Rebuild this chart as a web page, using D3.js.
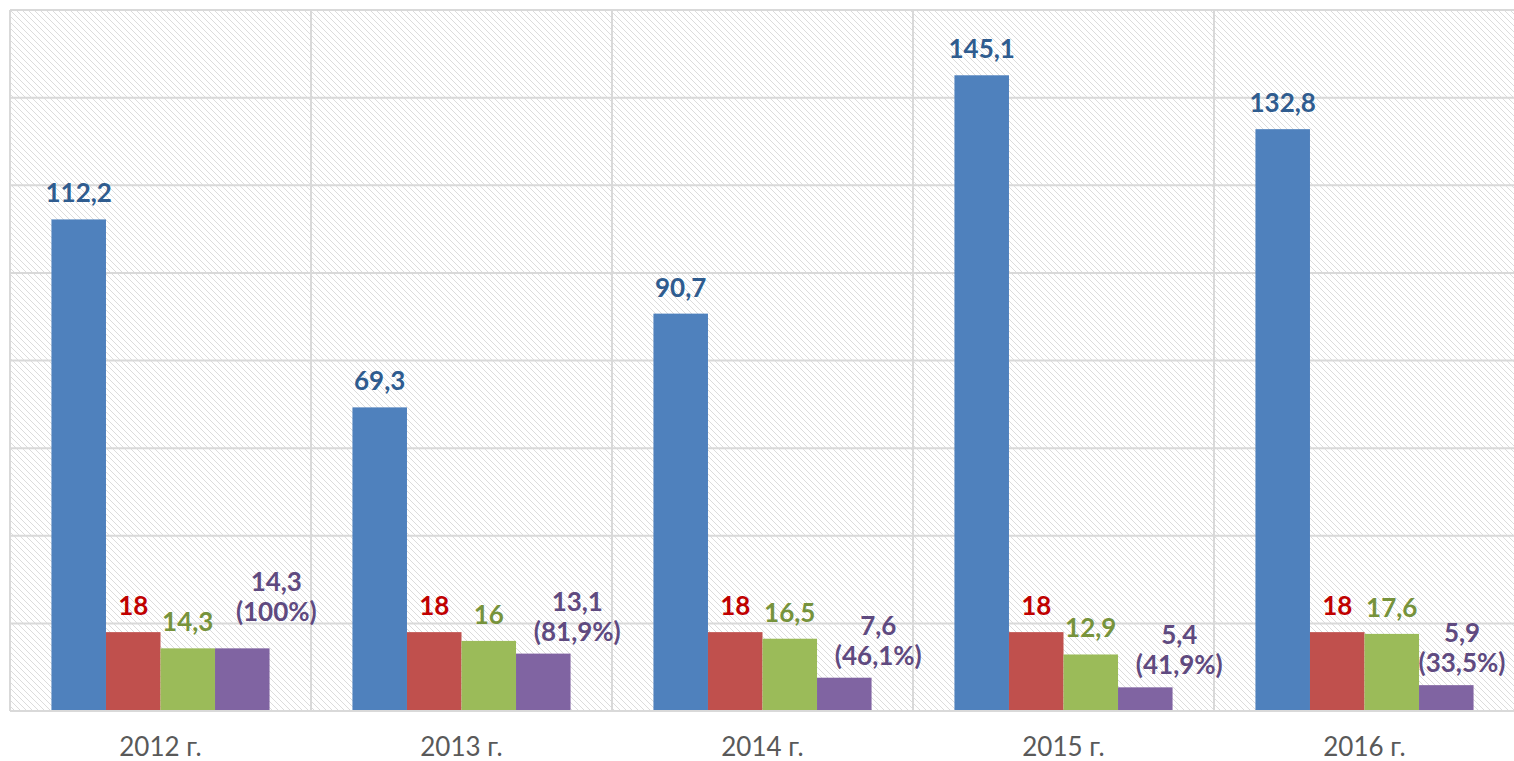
<!DOCTYPE html>
<html>
<head>
<meta charset="utf-8">
<script src="https://cdn.jsdelivr.net/npm/d3@7"></script>
<style>
  body { margin: 0; background: #fff; }
  svg { display: block; }
</style>
</head>
<body>
<div id="chart"></div>
<script>
'use strict'

// data
const years = ['2012 г.', '2013 г.', '2014 г.', '2015 г.', '2016 г.'];
const seriesKeys = ['a', 'b', 'c', 'd'];
const seriesA = [112.2, 69.3, 90.7, 145.1, 132.8];
const seriesB = [18, 18, 18, 18, 18];
const seriesC = [14.3, 16, 16.5, 12.9, 17.6];
const seriesD = [14.3, 13.1, 7.6, 5.4, 5.9];
const shareD = ['100%', '81,9%', '46,1%', '41,9%', '33,5%'];
const yTicks = [0, 20, 40, 60, 80, 100, 120, 140, 160];

const barColors = { a: '#4f81bd', b: '#c0504d', c: '#9bbb59', d: '#8064a2' };
const labelColors = { a: '#2f5c8f', b: '#c00000', c: '#77933c', d: '#5f4a80' };

const width = 1514, height = 761;
const plot = { left: 10, top: 10, right: 1515, bottom: 711 };

const rows = years.map((year, i) => ({
    year,
    values: { a: seriesA[i], b: seriesB[i], c: seriesC[i], d: seriesD[i] },
    share: shareD[i]
}));

const fmt = v => String(v).replace('.', ',');

const svg = d3.select('#chart').append('svg')
    .attr('width', width)
    .attr('height', height);

// hatched background
const defs = svg.append('defs');
const pat = defs.append('pattern')
    .attr('id', 'hatch')
    .attr('patternUnits', 'userSpaceOnUse')
    .attr('width', 6)
    .attr('height', 6);
pat.append('rect').attr('width', 6).attr('height', 6).attr('fill', '#fff');
pat.append('path')
    .attr('d', 'M-1,-1 L7,7 M-1,5 L1,7 M5,-1 L7,1')
    .attr('stroke', '#dcdcdc')
    .attr('stroke-width', 1);

const x0 = d3.scaleBand()
    .domain(years)
    .range([plot.left, plot.right]);

const x1 = d3.scaleBand()
    .domain(seriesKeys)
    .range([0, x0.bandwidth()])
    .paddingOuter(0.76);

const y = d3.scaleLinear()
    .domain([0, 160])
    .range([plot.bottom, plot.top]);

svg.append('rect')
    .attr('x', plot.left)
    .attr('y', plot.top)
    .attr('width', plot.right - plot.left)
    .attr('height', plot.bottom - plot.top)
    .attr('fill', 'url(#hatch)');

// grid
svg.append('g')
    .selectAll('line')
    .data(yTicks)
    .enter().append('line')
    .attr('x1', plot.left)
    .attr('x2', plot.right)
    .attr('y1', d => y(d))
    .attr('y2', d => y(d))
    .attr('stroke', '#d9d9d9')
    .attr('stroke-width', 2);

svg.append('g')
    .selectAll('line')
    .data(years.concat(['end']))
    .enter().append('line')
    .attr('x1', d => d === 'end' ? plot.right : x0(d))
    .attr('x2', d => d === 'end' ? plot.right : x0(d))
    .attr('y1', plot.top)
    .attr('y2', plot.bottom)
    .attr('stroke', '#d9d9d9')
    .attr('stroke-width', 2);

// bars
const groups = svg.append('g')
    .selectAll('g')
    .data(rows)
    .enter().append('g')
    .attr('transform', d => `translate(${x0(d.year)},0)`);

groups.selectAll('rect')
    .data(d => seriesKeys.map(k => ({ key: k, value: d.values[k] })))
    .enter().append('rect')
    .attr('x', d => x1(d.key))
    .attr('y', d => y(d.value))
    .attr('width', x1.bandwidth())
    .attr('height', d => y(0) - y(d.value))
    .attr('fill', d => barColors[d.key]);

// bottom axis line over bars
svg.append('line')
    .attr('x1', plot.left)
    .attr('x2', plot.right)
    .attr('y1', plot.bottom)
    .attr('y2', plot.bottom)
    .attr('stroke', '#d9d9d9')
    .attr('stroke-width', 2);

const labelFont = 'Lato, "DejaVu Sans", sans-serif';

// value labels for the first three series
groups.selectAll('text.val')
    .data(d => ['a', 'b', 'c'].map(k => ({ key: k, value: d.values[k] })))
    .enter().append('text')
    .attr('class', 'val')
    .attr('x', d => x1(d.key) + x1.bandwidth() / 2)
    .attr('y', d => y(d.value) - 17)
    .attr('text-anchor', 'middle')
    .attr('font-family', labelFont)
    .attr('font-weight', 700)
    .attr('font-size', 26)
    .attr('fill', d => labelColors[d.key])
    .text(d => fmt(d.value));

// two-line labels for the last series
groups.each(function(d) {
    const g = d3.select(this);
    const top = y(d.values.d);
    const lifted = Math.abs(d.values.d - d.values.c) < 0.5;
    const base = lifted ? top - 27 : top - 13;
    const gx = x0(d.year);
    let cx = x1('d') + x1.bandwidth() / 2 + 34;
    const halfW = 49;
    if (gx + cx + halfW > width - 3) cx = width - 3 - halfW - gx;

    const t = g.append('text')
        .attr('text-anchor', 'middle')
        .attr('font-family', labelFont)
        .attr('font-weight', 700)
        .attr('font-size', 26)
        .attr('fill', labelColors.d);
    t.append('tspan').attr('x', cx).attr('y', base - 30).text(fmt(d.values.d));
    t.append('tspan').attr('x', cx).attr('y', base).text(`(${d.share})`);
});

// category labels
svg.append('g')
    .selectAll('text')
    .data(years)
    .enter().append('text')
    .attr('x', d => x0(d) + x0.bandwidth() / 2)
    .attr('y', 756)
    .attr('text-anchor', 'middle')
    .attr('font-family', labelFont)
    .attr('font-size', 26)
    .attr('fill', '#595959')
    .text(d => d);
</script>
</body>
</html>
